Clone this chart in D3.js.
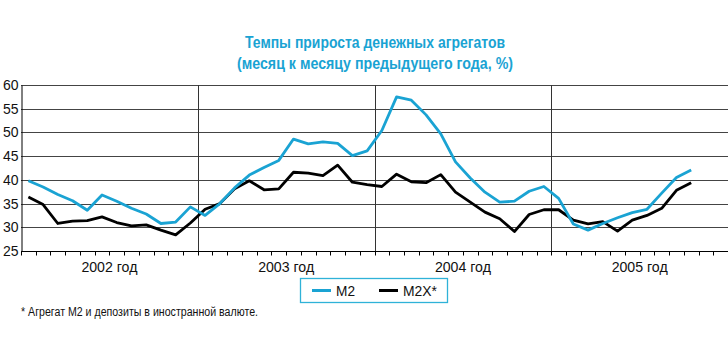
<!DOCTYPE html>
<html><head><meta charset="utf-8">
<script src="https://cdn.jsdelivr.net/npm/d3@7"></script>
<style>
body{margin:0;background:#fff;}
svg{display:block;}
</style></head>
<body><svg id="chart" width="728" height="352"></svg>
<script>
const years = ["2002 год","2003 год","2004 год","2005 год"];
const months = [];
[2002,2003,2004,2005].forEach(y=>{for(let m=1;m<=12;m++) months.push(y+"-"+m);});
const m2 = [39.8,38.5,36.9,35.6,33.6,36.8,35.5,34.0,32.8,30.8,31.1,34.3,
            32.5,35.0,38.3,41.0,42.6,44.1,48.6,47.6,48.0,47.7,45.1,46.1,
            50.4,57.5,56.8,53.7,49.7,43.8,40.4,37.4,35.3,35.5,37.6,38.6,
            36.1,30.7,29.4,30.8,32.0,33.1,33.8,37.2,40.5,42.1];
const m2x = [36.4,34.8,30.8,31.3,31.4,32.2,31.0,30.3,30.5,29.4,28.4,30.9,
             33.8,35.0,38.1,39.8,37.9,38.1,41.6,41.4,40.9,43.1,39.5,39.0,
             38.6,41.2,39.6,39.4,41.1,37.4,35.3,33.2,31.8,29.1,32.7,33.7,
             33.7,31.5,30.7,31.2,29.2,31.5,32.5,34.0,37.8,39.4];
const yTicks = [25,30,35,40,45,50,55,60];
const seriesNames = ["M2","M2X*"];
const colors = ["#1aa3d3","#000000"];

const svg = d3.select("#chart");
const L=21, R=728, T=85, B=251;
const x = d3.scaleBand().domain(months).range([L,R]).padding(0);
const xy = d3.scaleBand().domain(years).range([L,R]).padding(0);
const y = d3.scaleLinear().domain([25,60]).range([B,T]);
const font = "'Liberation Sans',Arial,sans-serif";

// title
svg.append("text").attr("x",375).attr("y",48).attr("text-anchor","middle")
  .attr("font-family",font).attr("font-weight","bold").attr("font-size",16)
  .attr("textLength",260).attr("lengthAdjust","spacingAndGlyphs")
  .attr("fill","#1aa3d3").text("Темпы прироста денежных агрегатов");
svg.append("text").attr("x",375).attr("y",69).attr("text-anchor","middle")
  .attr("font-family",font).attr("font-weight","bold").attr("font-size",16)
  .attr("textLength",276).attr("lengthAdjust","spacingAndGlyphs")
  .attr("fill","#1aa3d3").text("(месяц к месяцу предыдущего года, %)");

// gridlines
svg.append("g").selectAll("line").data(yTicks.filter(d=>d>25)).join("line")
  .attr("x1",L).attr("x2",R).attr("y1",d=>Math.round(y(d))+0.5).attr("y2",d=>Math.round(y(d))+0.5)
  .attr("stroke","#444").attr("stroke-width",1);

// year separators
svg.append("g").selectAll("line").data(years.slice(1)).join("line")
  .attr("x1",d=>Math.round(xy(d))+0.5).attr("x2",d=>Math.round(xy(d))+0.5)
  .attr("y1",T).attr("y2",B).attr("stroke","#333").attr("stroke-width",1);

// y axis
const yAxis = d3.axisLeft(y).tickValues(yTicks).tickSize(0).tickPadding(3);
const gy = svg.append("g").attr("transform",`translate(${L+0.5},0)`).call(yAxis);
gy.select(".domain").attr("stroke","#000");
gy.selectAll("text").attr("font-family",font).attr("font-size",14).attr("fill","#111");

// x axis: month ticks
const gx = svg.append("g").attr("transform",`translate(0,${B+0.5})`);
gx.append("line").attr("x1",L).attr("x2",R).attr("stroke","#000");
gx.selectAll("line.t").data(months).join("line").attr("class","t")
  .attr("x1",d=>Math.round(x(d))+0.5).attr("x2",d=>Math.round(x(d))+0.5)
  .attr("y1",0).attr("y2",4).attr("stroke","#000");
gx.selectAll("text").data(years).join("text")
  .attr("x",d=>xy(d)+xy.bandwidth()/2).attr("y",20).attr("text-anchor","middle")
  .attr("font-family",font).attr("font-size",14).attr("fill","#111")
  .attr("textLength",56).attr("lengthAdjust","spacingAndGlyphs").text(d=>d);

// lines
const line = d3.line().x((d,i)=>x(months[i])+x.bandwidth()/2).y(d=>y(d));
[m2x,m2].forEach((s,k)=>{
  const idx = 1-k;
  svg.append("path").datum(s).attr("d",line).attr("fill","none")
    .attr("stroke",colors[idx]).attr("stroke-width",2.8).attr("stroke-linejoin","round");
});

// legend
svg.append("rect").attr("x",300.5).attr("y",278.5).attr("width",147).attr("height",24)
  .attr("fill","none").attr("stroke","#2fb2d8").attr("stroke-width",1.3);
const lx = [312,379];
const tl = [19,34];
seriesNames.forEach((n,i)=>{
  svg.append("line").attr("x1",lx[i]).attr("x2",lx[i]+19).attr("y1",290.5).attr("y2",290.5)
    .attr("stroke",colors[i]).attr("stroke-width",3);
  svg.append("text").attr("x",lx[i]+24).attr("y",296).attr("font-family",font)
    .attr("font-size",15).attr("fill","#111")
    .attr("textLength",tl[i]).attr("lengthAdjust","spacingAndGlyphs").text(n);
});

// footnote
svg.append("text").attr("x",21).attr("y",316).attr("font-family",font)
  .attr("font-size",12).attr("fill","#111")
  .attr("textLength",237).attr("lengthAdjust","spacingAndGlyphs")
  .text("* Агрегат М2 и депозиты в иностранной валюте.");
</script></body></html>
